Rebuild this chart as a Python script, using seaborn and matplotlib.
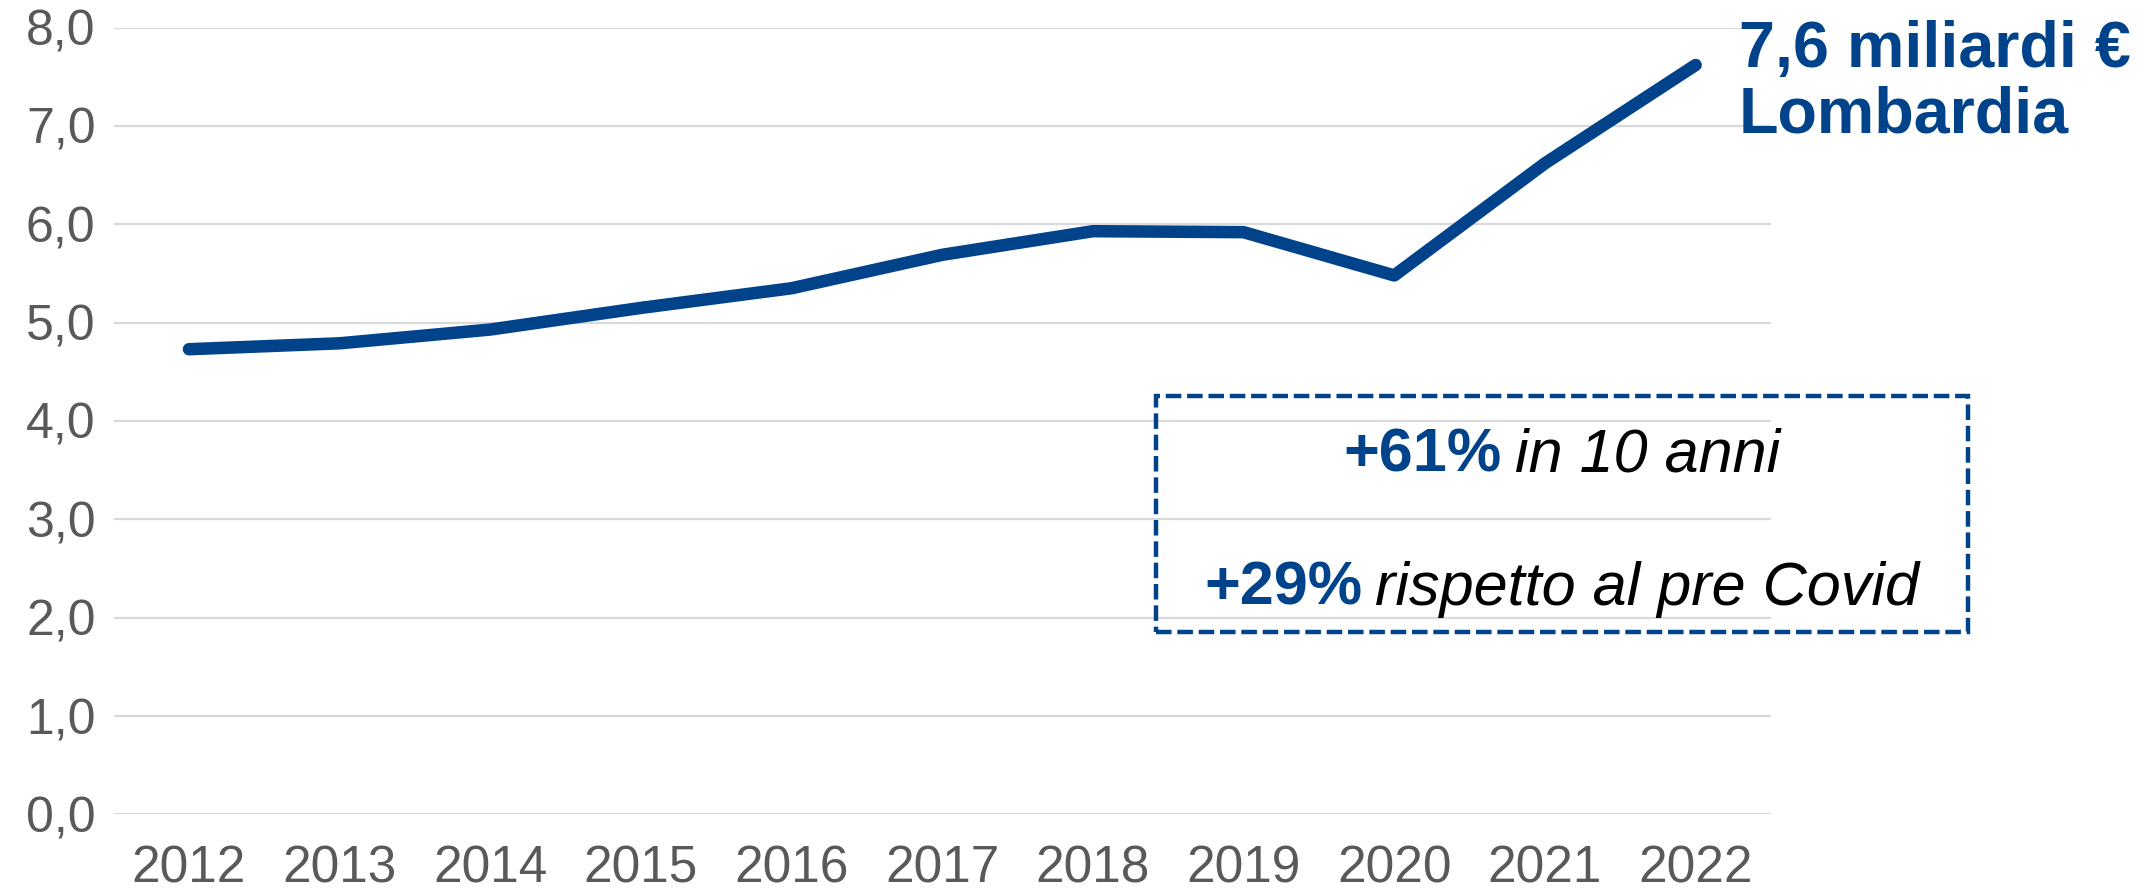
import matplotlib
matplotlib.use("Agg")
import matplotlib.pyplot as plt
import matplotlib.patches as patches
import seaborn as sns
import pandas as pd

years = [2012, 2013, 2014, 2015, 2016, 2017, 2018, 2019, 2020, 2021, 2022]
valori = [4.73, 4.79, 4.93, 5.15, 5.35, 5.69, 5.93, 5.92, 5.48, 6.62, 7.62]
y_ticks = [0, 1, 2, 3, 4, 5, 6, 7, 8]
y_labels = ["0,0", "1,0", "2,0", "3,0", "4,0", "5,0", "6,0", "7,0", "8,0"]

blue = "#00438A"
grey = "#595959"

sns.set_style("white")
plt.rcParams['font.family'] = ['Liberation Sans', 'DejaVu Sans']

df = pd.DataFrame({"anno": years, "valore": valori})

fig = plt.figure(figsize=(21.44, 8.91), dpi=100)
ax = fig.add_axes([0.053, 0.086, 0.773, 0.883])

for v in y_ticks:
    ax.axhline(v, color="#D9D9D9", lw=1.6, zorder=0)

sns.lineplot(data=df, x="anno", y="valore", ax=ax, color=blue, linewidth=9,
             solid_capstyle="round", solid_joinstyle="round", zorder=3)

ax.set_xlim(2011.5, 2022.5)
ax.set_ylim(0, 8)
ax.set_xticks(years)
ax.set_xticklabels([str(y) for y in years], fontsize=37, color=grey)
ax.set_yticks(y_ticks)
ax.set_yticklabels(y_labels, fontsize=36, color=grey)
ax.tick_params(axis="both", length=0)
ax.tick_params(axis="x", pad=22)
ax.tick_params(axis="y", pad=13)
ax.set_xlabel("")
ax.set_ylabel("")
for s in ax.spines.values():
    s.set_visible(False)
ax.set_facecolor("none")

fig.text(0.811, 0.978, "7,6 miliardi €\nLombardia", fontsize=46.5, fontweight="bold",
         color=blue, va="top", ha="left", linespacing=1.12)

# riquadro tratteggiato
box = patches.Rectangle((0.539, 0.291), 0.379, 0.264, transform=fig.transFigure,
                        fill=False, edgecolor=blue, lw=3.2, linestyle=(0, (3.5, 1.3)))
fig.add_artist(box)

cx = 0.7285
fig.canvas.draw()
r = fig.canvas.get_renderer()
for yb, bold, ital in [(0.471, "+61%", "in 10 anni"), (0.321, "+29%", "rispetto al pre Covid")]:
    t1 = fig.text(0, yb, bold, fontsize=44, fontweight="bold", color=blue, va="baseline")
    t2 = fig.text(0, yb, ital, fontsize=44, style="italic", color="black", va="baseline")
    w1 = t1.get_window_extent(r).width / fig.bbox.width
    w2 = t2.get_window_extent(r).width / fig.bbox.width
    gap = 0.006
    x0 = cx - (w1 + gap + w2) / 2
    t1.set_x(x0)
    t2.set_x(x0 + w1 + gap)

fig.savefig("out.png", dpi=100)
